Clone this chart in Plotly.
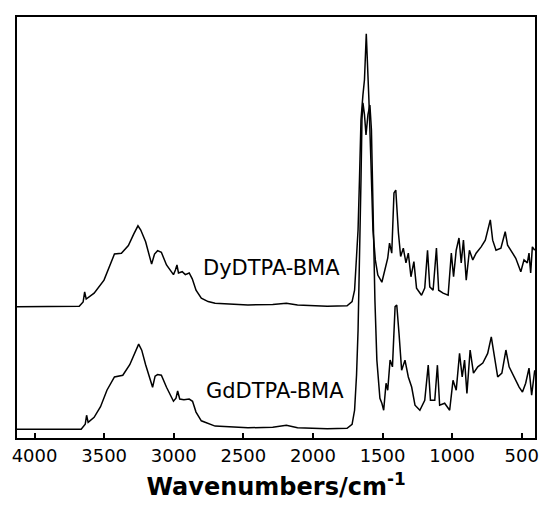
import plotly.graph_objects as go

# Wavenumber (cm-1) and intensity (a.u.)
dy_wn = [4130, 3822, 3679, 3651, 3640, 3629, 3572, 3501, 3426, 3376, 3326, 3287, 3257, 3237,
         3202, 3159, 3138, 3116, 3089, 3052, 3002, 2988, 2977, 2966, 2939, 2917, 2889, 2867,
         2840, 2802, 2753, 2703, 2467, 2289, 2191, 2111, 1897, 1755, 1719, 1701, 1687, 1676,
         1666, 1655, 1641, 1630, 1617, 1609, 1598, 1584, 1569, 1552, 1534, 1505, 1477, 1463,
         1450, 1434, 1418, 1405, 1386, 1370, 1351, 1332, 1315, 1296, 1275, 1256, 1220, 1197,
         1177, 1161, 1137, 1113, 1097, 1065, 1029, 1006, 990, 971, 951, 935, 919, 899, 876,
         852, 828, 792, 762, 726, 709, 685, 650, 619, 602, 579, 543, 507, 484, 460, 448, 436,
         424, 407]
dy_int = [31.2, 31.2, 31.3, 32.3, 34.7, 33.0, 34.4, 37.5, 43.7, 43.9, 45.7, 48.5, 50.4, 49.4,
          46.6, 41.3, 43.7, 44.5, 44.1, 41.1, 38.8, 39.9, 41.1, 39.2, 39.5, 38.8, 39.2, 37.8,
          35.1, 33.2, 32.4, 32.0, 31.6, 31.7, 32.0, 31.6, 31.3, 31.4, 32.4, 35.1, 42.3, 49.4,
          61.3, 75.6, 81.5, 85.1, 96.0, 89.8, 80.3, 66.1, 49.4, 42.3, 38.7, 37.0, 40.7, 42.7,
          46.3, 43.9, 58.2, 58.9, 48.7, 43.1, 45.1, 41.6, 43.9, 38.3, 41.9, 35.6, 33.9, 35.6,
          44.6, 35.9, 35.1, 45.1, 35.1, 34.4, 33.9, 43.9, 38.3, 44.6, 47.5, 41.6, 47.0, 37.5, 44.6,
          42.3, 43.9, 45.4, 47.0, 51.8, 47.0, 44.6, 45.1, 49.0, 45.8, 44.6, 42.7, 39.5, 42.3,
          41.6, 43.9, 39.2, 45.4, 44.6]

gd_wn = [4130, 3822, 3665, 3636, 3626, 3615, 3572, 3526, 3480, 3426, 3366, 3316, 3280, 3252,
         3230, 3202, 3152, 3134, 3116, 3089, 3052, 3002, 2984, 2972, 2957, 2927, 2889, 2865,
         2840, 2802, 2703, 2467, 2289, 2191, 2111, 1897, 1755, 1719, 1701, 1687, 1676, 1666,
         1655, 1648, 1641, 1630, 1619, 1605, 1591, 1580, 1569, 1555, 1541, 1519, 1505, 1492,
         1475, 1463, 1446, 1429, 1410, 1398, 1382, 1363, 1339, 1315, 1291, 1267, 1232, 1197,
         1172, 1156, 1125, 1106, 1090, 1054, 1018, 994, 971, 947, 928, 911, 894, 871, 847,
         816, 780, 745, 719, 698, 673, 643, 614, 591, 555, 519, 495, 472, 448, 429, 407]
gd_int = [2.07, 2.07, 2.07, 3.26, 5.4, 3.73, 4.92, 7.42, 11.35, 14.49, 14.91, 17.41, 20.38, 22.29,
          20.86, 17.41, 12.06, 14.68, 15.08, 14.91, 12.06, 8.73, 9.44, 11.16, 9.25, 9.09, 9.25, 8.73,
          6.16, 4.09, 2.83, 2.43, 2.55, 3.02, 2.43, 2.19, 2.31, 3.26, 6.59, 14.91, 25.6, 39.9,
          61.3, 75.6, 79.6, 76.8, 72.0, 76.8, 79.1, 73.2, 51.8, 32.8, 18.5, 9.44, 8.25, 6.59,
          13.0, 11.35, 18.5, 16.9, 31.2, 31.6, 24.9, 16.1, 18.5, 14.5, 12.1, 7.78, 6.59, 8.97,
          17.3, 8.97, 8.97, 17.3, 7.78, 8.25, 6.59, 13.7, 11.35, 20.1, 14.5, 18.5, 10.6, 20.9, 15.4,
          16.9, 17.8, 20.1, 24.0, 19.3, 14.5, 15.4, 20.9, 16.9, 14.5, 12.1, 10.9, 13.0, 16.6, 10.2, 16.1]

labels = ["DyDTPA-BMA", "GdDTPA-BMA"]
label_wn = [2300, 2272]
label_int = [40.4, 11.2]

tick_vals = [4000, 3500, 3000, 2500, 2000, 1500, 1000, 500]

fig = go.Figure()
for wn, it in [(dy_wn, dy_int), (gd_wn, gd_int)]:
    fig.add_trace(go.Scatter(x=wn, y=it, mode="lines",
                             line=dict(color="black", width=1.5), showlegend=False))

for t, x, y in zip(labels, label_wn, label_int):
    fig.add_annotation(x=x, y=y, xref="x", yref="y", text=t, showarrow=False,
                       font=dict(family="DejaVu Sans", size=21, color="black"))

fig.update_layout(
    width=546, height=512,
    margin=dict(l=17, r=7, t=17, b=74),
    paper_bgcolor="white", plot_bgcolor="white",
    xaxis=dict(range=[4126, 405], tickvals=tick_vals, ticktext=[str(v) for v in tick_vals],
               ticks="inside", ticklen=5, tickwidth=2, tickcolor="black",
               showline=True, linewidth=2, linecolor="black", mirror=True,
               showgrid=False, zeroline=False,
               tickfont=dict(family="DejaVu Sans", size=18, color="black"),
               title=dict(text="<b>Wavenumbers/cm<sup>-1</sup></b>",
                          font=dict(family="DejaVu Sans", size=24, color="black"),
                          standoff=14)),
    yaxis=dict(range=[0, 100], showticklabels=False, ticks="",
               showline=True, linewidth=2, linecolor="black", mirror=True,
               showgrid=False, zeroline=False),
)

fig.write_html("out.html")
